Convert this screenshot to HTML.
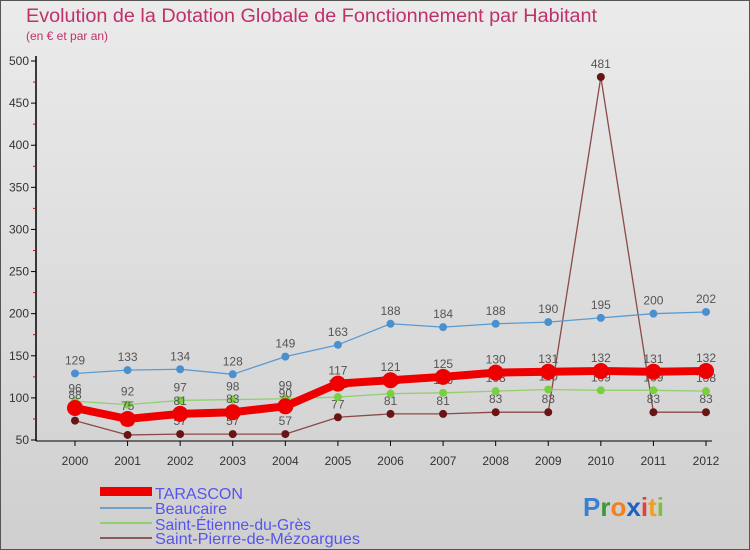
<!DOCTYPE html>
<html><head><meta charset="utf-8"><style>
html,body{margin:0;padding:0;width:750px;height:550px;overflow:hidden;font-family:"Liberation Sans",sans-serif}
</style></head><body>
<svg id="chart" width="750" height="550" xmlns="http://www.w3.org/2000/svg" font-family="Liberation Sans, sans-serif">
<defs><linearGradient id="bg" x1="0" y1="0" x2="0" y2="1"><stop offset="0" stop-color="#ebebeb"/><stop offset="1" stop-color="#cfcfcf"/></linearGradient></defs>
<rect x="0.5" y="0.5" width="749" height="549" fill="url(#bg)" stroke="#555"/>
<text x="26" y="22" font-size="19" fill="#c0306a" textLength="571" lengthAdjust="spacingAndGlyphs">Evolution de la Dotation Globale de Fonctionnement par Habitant</text>
<text x="26" y="40" font-size="12" fill="#c0306a">(en € et par an)</text>
<g id="axes"></g><g id="series"></g>
<g>
<rect x="100" y="487" width="52" height="9" fill="#ee0000"/>
<text x="155" y="499" font-size="16" fill="#5555ee" textLength="88" lengthAdjust="spacingAndGlyphs">TARASCON</text>
<rect x="100" y="507" width="52" height="2" fill="#6fa0c8"/>
<text x="155" y="514" font-size="16" fill="#5555ee" textLength="72" lengthAdjust="spacingAndGlyphs">Beaucaire</text>
<rect x="100" y="522" width="52" height="2" fill="#90d070"/>
<text x="155" y="530" font-size="16" fill="#5555ee" textLength="156" lengthAdjust="spacingAndGlyphs">Saint-Étienne-du-Grès</text>
<rect x="100" y="537" width="52" height="2" fill="#8b5a5a"/>
<text x="155" y="544" font-size="16" fill="#5555ee" textLength="205" lengthAdjust="spacingAndGlyphs">Saint-Pierre-de-Mézoargues</text>
</g>
<text x="583" y="516" font-size="26" font-weight="bold"><tspan fill="#3a7fd0">P</tspan><tspan fill="#3a9a3a">r</tspan><tspan fill="#f08020">o</tspan><tspan fill="#2060c0">x</tspan><tspan fill="#e04040">i</tspan><tspan fill="#f0a020">t</tspan><tspan fill="#80c040">i</tspan></text>
</svg>
<script>
const years=[2000,2001,2002,2003,2004,2005,2006,2007,2008,2009,2010,2011,2012];
const yTicks=[50,100,150,200,250,300,350,400,450,500];
const tarascon=[88,75,81,83,90,117,121,125,130,131,132,131,132];
const beaucaire=[129,133,134,128,149,163,188,184,188,190,195,200,202];
const stEtienne=[96,92,97,98,99,101,105,106,108,110,109,109,108];
const stPierre=[73,56,57,57,57,77,81,81,83,83,481,83,83];
const NS="http://www.w3.org/2000/svg";
const X=i=>75+i*(706-75)/(years.length-1);
const Y=v=>440-(v-50)*(440-61)/450;
function mk(tag,attrs,parent){const e=document.createElementNS(NS,tag);for(const k in attrs)e.setAttribute(k,attrs[k]);parent.appendChild(e);return e;}
const ax=document.getElementById('axes');
let l=mk('line',{x1:36,y1:56,x2:36,y2:441,stroke:'#000','stroke-width':1.5},ax);


l=mk('line',{x1:36,y1:441,x2:712,y2:441,stroke:'#000','stroke-width':1},ax);


yTicks.forEach(v=>{
  const y=Y(v);
  const t=mk('line',{x1:31,y1:y,x2:36,y2:y,stroke:'#000'},ax);
  
  
  const tx=mk('text',{x:29,y:y+4,'font-size':12,'text-anchor':'end',fill:'#333'},ax);
  tx.textContent=v;
  
  
  if(v<500){const m=mk('line',{x1:33,y1:Y(v+25),x2:36,y2:Y(v+25),stroke:'#e00000'},ax);
  
  }
});
years.forEach((yr,i)=>{
  const t=mk('line',{x1:X(i),y1:441,x2:X(i),y2:446,stroke:'#000'},ax);
  
  
  const tx=mk('text',{x:X(i),y:465,'font-size':12,'text-anchor':'middle',fill:'#333'},ax);
  tx.textContent=yr;
  
  
});
const sg=document.getElementById('series');
function series(vals,name,color,w,r,dot){
  const g=mk('g',{},sg);
  
  
  const p=mk('polyline',{points:vals.map((v,i)=>X(i)+','+Y(v)).join(' '),fill:'none',stroke:color,'stroke-width':w,'stroke-linejoin':'round'},g);
  
  
  vals.forEach((v,i)=>{
    const c=mk('circle',{cx:X(i),cy:Y(v),r:r,fill:dot},g);
    
    
    const t=mk('text',{x:X(i),y:Y(v)-9,'font-size':12,'text-anchor':'middle',fill:'#555'},g);
    t.textContent=v;
    
    
  });
}
series(stPierre,'saint-pierre','#8b4a4a',1.3,4,'#6a1515');
series(stEtienne,'saint-etienne','#90d070',1.3,4,'#78d040');
series(beaucaire,'beaucaire','#5a9ad0',1.3,4,'#4a90d0');
series(tarascon,'tarascon','#ee0000',8,8,'#ee0000');
</script>
</body></html>
